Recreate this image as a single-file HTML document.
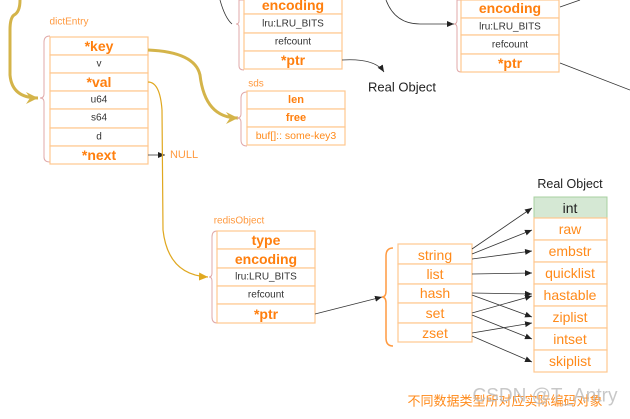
<!DOCTYPE html>
<html><head><meta charset="utf-8"><style>
html,body{margin:0;padding:0;background:#fff;width:630px;height:419px;overflow:hidden}
svg{display:block}
text{font-family:"Liberation Sans","Noto Sans CJK SC",sans-serif;text-anchor:middle;dominant-baseline:central}
.c{fill:#fff;stroke:#ffc78f;stroke-width:1.2}
.b{fill:#ff7f0e;font-weight:bold;font-size:14px}
.s{fill:#333;font-size:10px}
.o{fill:#ff8a1a;font-size:14px}
.br{fill:none;stroke:#e0a8a8;stroke-width:1}
.k{fill:none;stroke:#333;stroke-width:0.8}
.g{fill:none;stroke:#d4b44a;stroke-width:3}
</style></head><body>
<svg width="630" height="419" viewBox="0 0 630 419">
<defs>
<marker id="a" markerWidth="8" markerHeight="8" refX="7" refY="4" orient="auto" markerUnits="userSpaceOnUse"><path d="M0,1 L7,4 L0,7 z" fill="#222"/></marker>
<marker id="ga" markerWidth="14" markerHeight="14" refX="12" refY="7" orient="auto" markerUnits="userSpaceOnUse"><path d="M0,1 L12,7 L0,13 L4,7 z" fill="#d4b44a"/></marker>
<marker id="ya" markerWidth="10" markerHeight="10" refX="9" refY="5" orient="auto" markerUnits="userSpaceOnUse"><path d="M0,1 L9,5 L0,9 z" fill="#e0a820"/></marker>
</defs>

<!-- dictEntry -->
<text x="69" y="22" style="fill:#ff9a40;font-size:10px">dictEntry</text>
<path class="br" d="M50,36 Q44,36 44,42 L44,94 Q44,98 40,98 Q44,98 44,102 L44,157 Q44,162 50,162"/>
<rect class="c" x="50" y="37" width="98" height="18"/><text class="b" x="99" y="46">*key</text>
<rect class="c" x="50" y="55" width="98" height="18"/><text class="s" x="99" y="64">v</text>
<rect class="c" x="50" y="73" width="98" height="18"/><text class="b" x="99" y="82">*val</text>
<rect class="c" x="50" y="91" width="98" height="18"/><text class="s" x="99" y="100">u64</text>
<rect class="c" x="50" y="109" width="98" height="19"/><text class="s" x="99" y="118">s64</text>
<rect class="c" x="50" y="128" width="98" height="18"/><text class="s" x="99" y="137">d</text>
<rect class="c" x="50" y="146" width="98" height="18"/><text class="b" x="99" y="155">*next</text>
<line class="k" x1="148" y1="155" x2="165" y2="155" marker-end="url(#a)"/>
<text x="184" y="155" style="fill:#ff9a40;font-size:11px">NULL</text>

<!-- left gold curve -->
<path class="g" d="M20,0 Q20,12 14,15 Q10,18 10,30 L10,75 Q12,98 38,98" marker-end="url(#ga)"/>
<!-- key -> sds -->
<path class="g" d="M148,50 Q195,52 200,75 Q205,118 238,118" marker-end="url(#ga)"/>
<!-- val -> redisObject -->
<path d="M148,82 Q160,82 162,110 L163,230 Q168,275 208,277" fill="none" stroke="#e0a820" stroke-width="1.2" marker-end="url(#ya)"/>

<!-- top middle box -->
<path class="br" d="M244,0 L239,0 L239,21 Q239,24 236,24 Q239,24 239,27 L239,66 Q239,70 244,70"/>
<rect class="c" x="244" y="-4" width="98" height="18"/><text class="b" x="293" y="5">encoding</text>
<rect class="c" x="244" y="14" width="98" height="19"/><text class="s" x="293" y="24">lru:LRU_BITS</text>
<rect class="c" x="244" y="33" width="98" height="18"/><text class="s" x="293" y="42">refcount</text>
<rect class="c" x="244" y="51" width="98" height="18"/><text class="b" x="293" y="60">*ptr</text>
<path class="k" d="M220,0 Q225,18 232,24" />
<path class="k" d="M342,60 Q375,58 384,72" marker-end="url(#a)"/>
<text x="402" y="87" style="fill:#222;font-size:13px">Real Object</text>

<!-- top right box -->
<path class="k" d="M386,0 Q395,24 420,24 L454,24" marker-end="url(#a)"/>
<path class="br" d="M461,0 L457,0 L457,20 Q457,24 454,24 Q457,24 457,28 L457,68 Q457,72 461,72"/>
<rect class="c" x="461" y="0" width="98" height="18"/><text class="b" x="510" y="8">encoding</text>
<rect class="c" x="461" y="18" width="98" height="17"/><text class="s" x="510" y="27">lru:LRU_BITS</text>
<rect class="c" x="461" y="35" width="98" height="19"/><text class="s" x="510" y="45">refcount</text>
<rect class="c" x="461" y="54" width="98" height="18"/><text class="b" x="510" y="63">*ptr</text>
<line class="k" x1="560" y1="7" x2="580" y2="0"/>
<line class="k" x1="560" y1="63" x2="630" y2="90"/>

<!-- sds -->
<text x="256" y="84" style="fill:#ff9a40;font-size:10px">sds</text>
<path class="br" d="M247,92 Q241,92 241,98 L241,114 Q241,118 237,118 Q241,118 241,122 L241,140 Q241,146 247,146"/>
<rect class="c" x="247" y="91" width="98" height="18"/><text class="b" x="296" y="100" style="font-size:11px">len</text>
<rect class="c" x="247" y="109" width="98" height="18"/><text class="b" x="296" y="118" style="font-size:11px">free</text>
<rect class="c" x="247" y="127" width="98" height="18"/><text x="296" y="136" style="fill:#ff8a1a;font-size:10.5px">buf[]:: some-key3</text>

<!-- redisObject -->
<text x="239" y="221" style="fill:#ff9a40;font-size:10px">redisObject</text>
<path class="br" d="M217,231 Q212,231 212,237 L212,273 Q212,277 209,277 Q212,277 212,281 L212,317 Q212,323 217,323"/>
<rect class="c" x="217" y="231" width="98" height="18"/><text class="b" x="266" y="240">type</text>
<rect class="c" x="217" y="249" width="98" height="19"/><text class="b" x="266" y="259">encoding</text>
<rect class="c" x="217" y="268" width="98" height="18"/><text class="s" x="266" y="277">lru:LRU_BITS</text>
<rect class="c" x="217" y="286" width="98" height="18"/><text class="s" x="266" y="295">refcount</text>
<rect class="c" x="217" y="304" width="98" height="19"/><text class="b" x="266" y="314">*ptr</text>
<line class="k" x1="315" y1="314" x2="382" y2="297" marker-end="url(#a)"/>

<!-- types -->
<path d="M393,248 Q386,248 386,256 L386,291 Q386,297 382,297 Q386,297 386,303 L386,338 Q386,346 393,346" fill="none" stroke="#ff9a40" stroke-width="1.5"/>
<rect class="c" x="398" y="244" width="74" height="20"/><text class="o" x="435" y="255">string</text>
<rect class="c" x="398" y="264" width="74" height="20"/><text class="o" x="435" y="274">list</text>
<rect class="c" x="398" y="284" width="74" height="19"/><text class="o" x="435" y="293">hash</text>
<rect class="c" x="398" y="303" width="74" height="20"/><text class="o" x="435" y="313">set</text>
<rect class="c" x="398" y="323" width="74" height="19"/><text class="o" x="435" y="333">zset</text>

<!-- Real objects -->
<text x="570" y="184" style="fill:#222;font-size:12.5px">Real Object</text>
<rect x="534" y="197" width="73" height="21" fill="#d5e8d4" stroke="#a8d0a0"/><text x="570" y="208" style="fill:#222;font-size:14px">int</text>
<rect class="c" x="534" y="218" width="73" height="22"/><text class="o" x="570" y="229">raw</text>
<rect class="c" x="534" y="240" width="73" height="22"/><text class="o" x="570" y="251">embstr</text>
<rect class="c" x="534" y="262" width="73" height="22"/><text class="o" x="570" y="273">quicklist</text>
<rect class="c" x="534" y="284" width="73" height="22"/><text class="o" x="570" y="295">hastable</text>
<rect class="c" x="534" y="306" width="73" height="22"/><text class="o" x="570" y="317">ziplist</text>
<rect class="c" x="534" y="328" width="73" height="22"/><text class="o" x="570" y="339">intset</text>
<rect class="c" x="534" y="350" width="73" height="22"/><text class="o" x="570" y="361">skiplist</text>

<g class="k">
<line x1="472" y1="249" x2="532" y2="208" marker-end="url(#a)"/>
<line x1="472" y1="254" x2="532" y2="230" marker-end="url(#a)"/>
<line x1="472" y1="259" x2="532" y2="251" marker-end="url(#a)"/>
<line x1="472" y1="274" x2="532" y2="273" marker-end="url(#a)"/>
<line x1="472" y1="293" x2="532" y2="294" marker-end="url(#a)"/>
<line x1="472" y1="295" x2="532" y2="317" marker-end="url(#a)"/>
<line x1="472" y1="313" x2="532" y2="296" marker-end="url(#a)"/>
<line x1="472" y1="315" x2="532" y2="339" marker-end="url(#a)"/>
<line x1="472" y1="333" x2="532" y2="323" marker-end="url(#a)"/>
<line x1="472" y1="336" x2="532" y2="362" marker-end="url(#a)"/>
</g>

<text x="505" y="401" style="fill:#ff8a1a;font-size:13px">不同数据类型所对应实际编码对象</text>
<text x="545" y="396" style="fill:#bbb;font-size:19px;opacity:0.8">CSDN @T_Antry</text>
</svg>
</body></html>
